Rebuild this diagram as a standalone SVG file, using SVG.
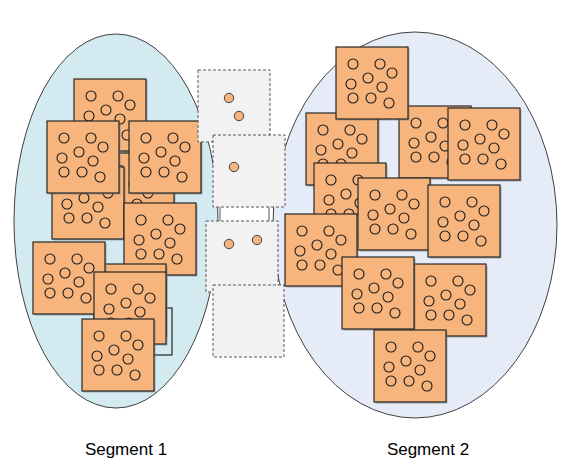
<svg xmlns="http://www.w3.org/2000/svg" xmlns:xlink="http://www.w3.org/1999/xlink" width="566" height="459" viewBox="0 0 566 459">
<style>
.ell{stroke:#404040;stroke-width:1}
.t{fill:#f7b57d;stroke:#262626;stroke-width:1.2}
.sh{fill:#7f7f7f;opacity:0.6}
.c{fill:none;stroke:#1a1a1a;stroke-width:1.1}
.m{fill:#f2f2f2;stroke:#595959;stroke-width:1;stroke-dasharray:3,2}
.mc{fill:#f7b57d;stroke:#404040;stroke-width:1}
.lbl{font-family:"Liberation Sans",Arial,sans-serif;font-size:17px;fill:#000;text-anchor:middle}
</style>
<defs>
<g id="tile">
<rect class="sh" x="1.5" y="1.5" width="72" height="72"/>
<rect class="t" x="0" y="0" width="72" height="72"/>
<circle class="c" cx="17" cy="17" r="5"/>
<circle class="c" cx="44" cy="17" r="5"/>
<circle class="c" cx="56" cy="26" r="5"/>
<circle class="c" cx="32" cy="31" r="5"/>
<circle class="c" cx="15" cy="37" r="5"/>
<circle class="c" cx="46" cy="40" r="5"/>
<circle class="c" cx="17" cy="51" r="5"/>
<circle class="c" cx="35" cy="51" r="5"/>
<circle class="c" cx="53" cy="56" r="5"/>
</g>
</defs>
<rect width="566" height="459" fill="#fff"/>
<g id="segment1">
<ellipse class="ell" cx="116" cy="221" rx="102" ry="187" fill="#d3eaf0"/>
</g>
<g id="segment2">
<ellipse class="ell" cx="415" cy="225" rx="142" ry="193" fill="#e5ecf7"/>
</g>
<g id="connectors">
<rect x="220" y="200" width="49" height="28" fill="#fff" stroke="#595959" stroke-width="1"/>
</g>
<g id="left-tiles">
<g id="L1"><use xlink:href="#tile" x="74" y="79"/></g>
<g id="L2"><use xlink:href="#tile" x="102" y="153"/></g>
<g id="L3"><use xlink:href="#tile" x="52" y="167"/></g>
<g id="L4"><use xlink:href="#tile" x="47" y="121"/></g>
<g id="L5"><use xlink:href="#tile" x="129" y="121"/></g>
<g id="L6"><use xlink:href="#tile" x="124" y="203"/></g>
<g id="L7"><rect x="100" y="308" width="72" height="47" fill="none" stroke="#262626" stroke-width="1.2"/></g>
<g id="L8"><use xlink:href="#tile" x="94" y="264"/></g>
<g id="L9"><use xlink:href="#tile" x="33" y="242"/></g>
<g id="L10"><use xlink:href="#tile" x="94" y="272"/></g>
<g id="L11"><use xlink:href="#tile" x="82" y="319"/></g>
</g>
<g id="middle">
<g id="M1"><rect class="m" x="198" y="70" width="72" height="72"/><circle class="mc" cx="229" cy="98" r="4.7"/><circle class="mc" cx="239" cy="116" r="4.7"/></g>
<g id="M2"><rect class="m" x="213" y="135" width="72" height="72"/><circle class="mc" cx="234" cy="167" r="4.7"/></g>
<g id="M3"><rect class="m" x="206" y="221" width="72" height="71"/><circle class="mc" cx="229" cy="244" r="4.7"/><circle class="mc" cx="257" cy="240" r="4.7"/></g>
<g id="M4"><rect class="m" x="213" y="285" width="71" height="72"/></g>
</g>
<g id="right-tiles">
<g id="R2"><use xlink:href="#tile" x="306" y="113"/></g>
<g id="R3"><use xlink:href="#tile" x="399" y="106"/></g>
<g id="R1"><use xlink:href="#tile" x="336" y="47"/></g>
<g id="R4"><use xlink:href="#tile" x="448" y="108"/></g>
<g id="R5"><use xlink:href="#tile" x="314" y="163"/></g>
<g id="R6"><use xlink:href="#tile" x="358" y="178"/></g>
<g id="R7"><use xlink:href="#tile" x="428" y="185"/></g>
<g id="R8"><use xlink:href="#tile" x="285" y="214"/></g>
<g id="R10"><use xlink:href="#tile" x="414" y="264"/></g>
<g id="R9"><use xlink:href="#tile" x="342" y="257"/></g>
<g id="R11"><use xlink:href="#tile" x="374" y="330"/></g>
</g>
<g id="labels">
<text class="lbl" x="126" y="455">Segment 1</text>
<text class="lbl" x="428" y="455">Segment 2</text>
</g>
</svg>
